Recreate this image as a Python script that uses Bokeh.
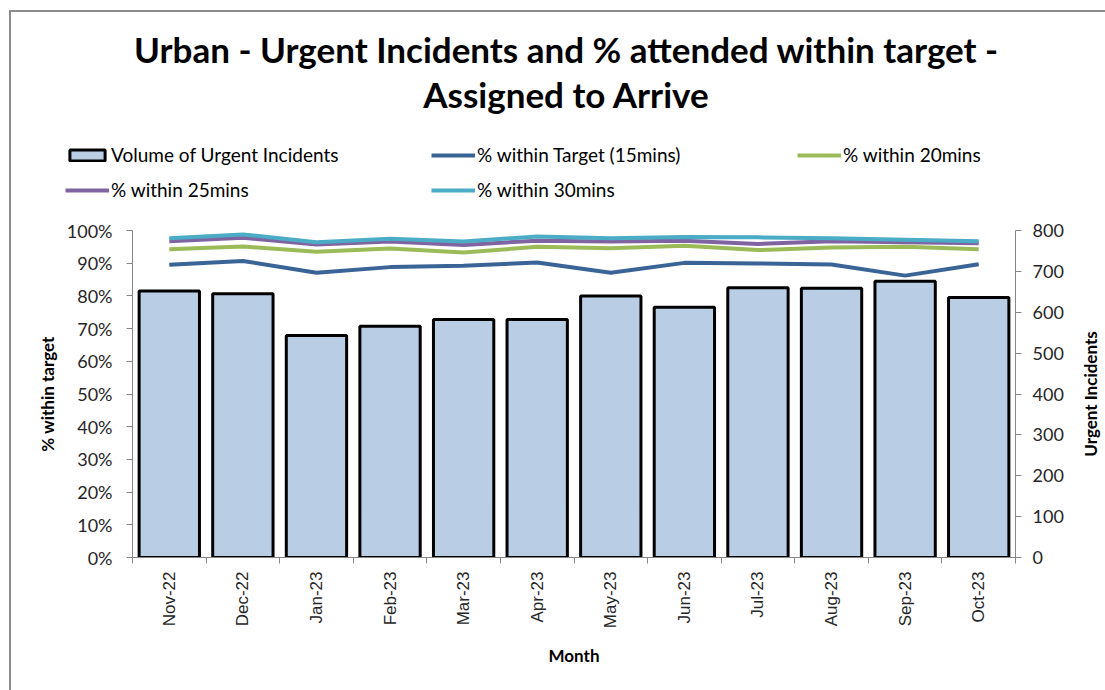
import math
from bokeh.plotting import figure
from bokeh.layouts import column, row
from bokeh.models import (Range1d, LinearAxis, FixedTicker, NumeralTickFormatter,
                          Legend, LegendItem, Label)
from bokeh.embed import file_html
from bokeh.resources import INLINE

months = ["Nov-22", "Dec-22", "Jan-23", "Feb-23", "Mar-23", "Apr-23",
          "May-23", "Jun-23", "Jul-23", "Aug-23", "Sep-23", "Oct-23"]
volume = [652, 645, 543, 566, 582, 582, 640, 612, 660, 659, 676, 636]
pct_15 = [0.895, 0.907, 0.871, 0.888, 0.892, 0.902, 0.871, 0.901, 0.899, 0.896, 0.862, 0.897]
pct_20 = [0.943, 0.951, 0.935, 0.945, 0.933, 0.950, 0.946, 0.953, 0.940, 0.948, 0.950, 0.943]
pct_25 = [0.967, 0.978, 0.957, 0.966, 0.956, 0.969, 0.966, 0.969, 0.959, 0.967, 0.964, 0.961]
pct_30 = [0.976, 0.988, 0.964, 0.975, 0.966, 0.982, 0.976, 0.980, 0.979, 0.976, 0.972, 0.967]
title_lines = ["Urban - Urgent Incidents and % attended within target -", "Assigned to Arrive"]
series_labels = ["Volume of Urgent Incidents", "% within Target (15mins)",
                 "% within 20mins", "% within 25mins", "% within 30mins"]
line_colors = ["#3A6396", "#9BBB59", "#8064A2", "#4BACC6"]
bar_fill = "#B9CDE5"
right_axis_title = "Urgent Incidents"

W, HH, HM, SW = 1094, 200, 478, 27
idx = list(range(len(months)))
NAN = float("nan")

# ---------------- header (title + legend) ----------------
hdr = figure(width=W, height=HH, output_backend="svg", toolbar_location=None,
             x_range=Range1d(0, W), y_range=Range1d(0, HH),
             x_axis_location=None, y_axis_location=None, min_border=0)
hdr.frame_align = False
hdr.grid.visible = False
hdr.outline_line_color = None
for i, line in enumerate(title_lines):
    hdr.add_layout(Label(x=555, y=HH - 36 - 45 * i, text=line, text_align="center",
                         text_baseline="middle", text_font="Lato",
                         text_font_style="bold", text_font_size="35px",
                         text_color="black"))

# legend-only renderers (no visible data)
hb = hdr.vbar(x=[NAN], top=[NAN], width=1, fill_color=bar_fill, line_color="black", line_width=3)
hls = [hdr.line(x=[NAN], y=[NAN], line_width=4, line_color=c) for c in line_colors]
legend = Legend(items=[LegendItem(label=lab, renderers=[r])
                       for lab, r in zip(series_labels, [hb] + hls)],
                location=(54, 10), orientation="horizontal", ncols=3,
                glyph_width=44, glyph_height=14, label_standoff=2, label_width=310,
                label_height=25, spacing=10, padding=0, border_line_color=None,
                background_fill_alpha=0, label_text_font="Lato",
                label_text_font_size="19px", label_text_color="black")
hdr.add_layout(legend, "center")

# ---------------- main chart ----------------
p = figure(width=W - SW, height=HM, output_backend="svg", toolbar_location=None,
           x_range=Range1d(-0.5, len(months) - 0.5), y_range=Range1d(0, 1),
           min_border_left=121, min_border_right=W - SW - 121 - 883, min_border_top=18,
           min_border_bottom=133)
p.frame_align = False
p.extra_y_ranges = {"vol": Range1d(0, 800)}
p.grid.visible = False
p.outline_line_color = None

axis_gray = "#868686"
tick_col = "#262626"

bars = p.vbar(x=idx, top=volume, width=0.82, y_range_name="vol",
              fill_color=bar_fill, line_color="black", line_width=3)
for vals, c in zip([pct_15, pct_20, pct_25, pct_30], line_colors):
    p.line(idx, vals, line_width=4, line_color=c)

xa = p.xaxis[0]
xa.ticker = FixedTicker(ticks=idx, minor_ticks=[i - 0.5 for i in range(len(months) + 1)])
xa.major_label_overrides = {i: m for i, m in enumerate(months)}
xa.major_label_orientation = math.pi / 2
xa.major_tick_line_color = None
xa.minor_tick_line_color = axis_gray
xa.minor_tick_out = 6
xa.minor_tick_in = 0
xa.axis_line_color = axis_gray
xa.major_label_text_font = "Liberation Sans"
xa.major_label_text_font_size = "17px"
xa.major_label_text_color = tick_col
xa.major_label_standoff = 8
xa.axis_label = "Month"
xa.axis_label_text_font = "Lato"
xa.axis_label_text_font_style = "bold"
xa.axis_label_text_font_size = "17px"
xa.axis_label_text_color = "black"
xa.axis_label_standoff = 14

ya = p.yaxis[0]
ya.ticker = FixedTicker(ticks=[i / 10 for i in range(11)])
ya.formatter = NumeralTickFormatter(format="0%")
ya.axis_line_color = axis_gray
ya.major_tick_line_color = axis_gray
ya.major_tick_out = 6
ya.major_tick_in = 0
ya.minor_tick_line_color = None
ya.major_label_text_font = "Lato"
ya.major_label_text_font_size = "18px"
ya.major_label_text_color = tick_col
ya.major_label_standoff = 14
ya.axis_label = "% within target"
ya.axis_label_text_font = "Lato"
ya.axis_label_text_font_style = "bold"
ya.axis_label_text_font_size = "17px"
ya.axis_label_text_color = "black"
ya.axis_label_standoff = 6

ra = LinearAxis(y_range_name="vol", ticker=FixedTicker(ticks=list(range(0, 801, 100))))
ra.axis_line_color = axis_gray
ra.major_tick_line_color = axis_gray
ra.major_tick_out = 6
ra.major_tick_in = 0
ra.minor_tick_line_color = None
ra.major_label_text_font = "Lato"
ra.major_label_text_font_size = "18px"
ra.major_label_text_color = tick_col
ra.major_label_standoff = 11
p.add_layout(ra, "right")

# ---------------- right axis title strip ----------------
side = figure(width=SW, height=HM, output_backend="svg", toolbar_location=None,
              x_range=Range1d(0, SW), y_range=Range1d(0, HM),
              x_axis_location=None, y_axis_location=None, min_border=0)
side.frame_align = False
side.grid.visible = False
side.outline_line_color = None
side.add_layout(Label(x=12, y=HM - 18 - 327 / 2, text=right_axis_title, angle=math.pi / 2,
                      text_align="center", text_baseline="middle", text_font="Lato",
                      text_font_style="bold", text_font_size="17px", text_color="black"))

layout = column(hdr, row(p, side, spacing=0), spacing=0)
layout.styles = {"margin-left": "9px", "margin-top": "10px",
                 "border-left": "2px solid #8c8c8c", "border-top": "2px solid #8c8c8c"}

open("out.html", "w").write(file_html(layout, INLINE))
